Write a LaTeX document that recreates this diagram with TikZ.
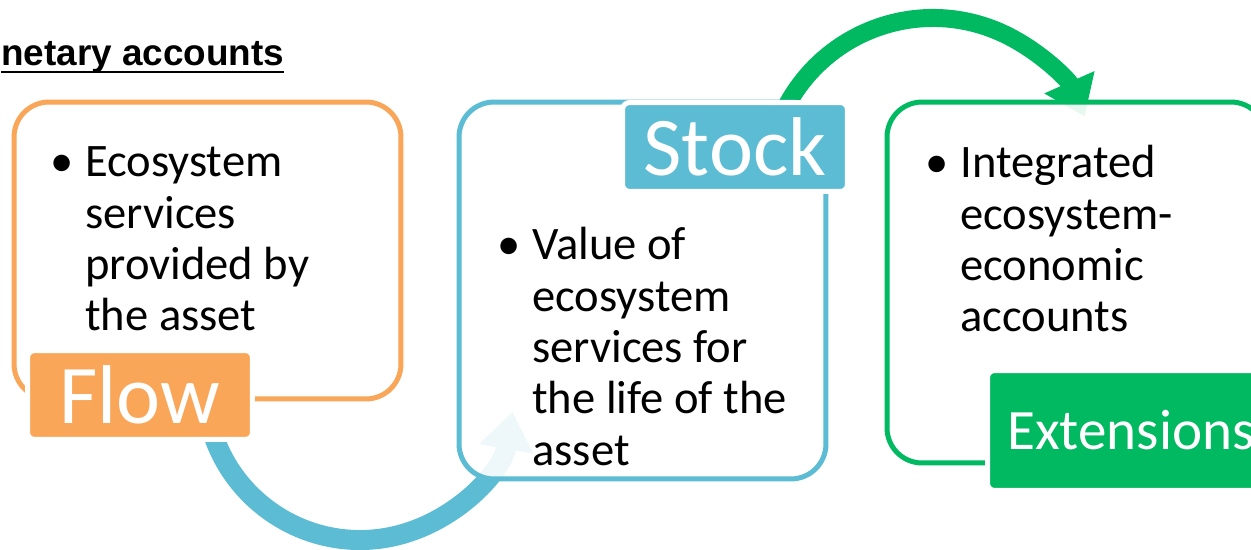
\documentclass[tikz,border=0pt]{standalone}
\usepackage{fontspec}
\setmainfont{Carlito}
\newfontfamily\titelfont{Liberation Sans}
\usetikzlibrary{arrows.meta}

\definecolor{flowcol}{HTML}{F9A658}
\definecolor{stockcol}{HTML}{5BBCD3}
\definecolor{extcol}{HTML}{00B960}

\begin{document}
\begin{tikzpicture}[x=0.02cm,y=-0.02cm,
	kasten/.style={draw,line width=0.1cm,rounded corners=0.7cm,fill=white,fill opacity=0.9,draw opacity=1,inner sep=0pt},
	tag/.style={draw=white,line width=0.1cm,rounded corners=0.14cm,text=white,inner sep=0pt,font=\fontsize{47.5pt}{50pt}\selectfont},
	punkte/.style={anchor=base west,inner sep=0pt,font=\fontsize{26.5pt}{29.2pt}\selectfont},
	bogen/.style={line width=#1,-{Triangle[length=0.75cm,width=1.05cm]}}]

\useasboundingbox (0,0) rectangle (1251,550);
\clip (0,0) rectangle (1251,550);

\def\rflow{155}
\def\rstock{166}

\coordinate (flowturn) at (360,385);
\coordinate (stockturn) at (933,184);

% the two round arrows
\draw[bogen=0.4cm,stockcol] (flowturn) ++(165:\rflow) arc[start angle=165,end angle=10,radius=\rflow];
\draw[bogen=0.36cm,extcol] (stockturn) ++(205:\rstock) arc[start angle=205,end angle=336,radius=\rstock];

\node[kasten,draw=flowcol,minimum width=7.74cm,minimum height=5.94cm] (flowbox) at (207.5,250.5) {};
\node[kasten,draw=stockcol,minimum width=7.34cm,minimum height=7.54cm] (stockbox) at (642.5,290.5) {};
\node[kasten,draw=extcol,minimum width=7.58cm,minimum height=7.22cm] (extbox) at (1076.5,282.5) {};

\node[tag,fill=flowcol,minimum width=4.5cm,minimum height=1.78cm] (flow) at (140,395) {Flow};
\node[tag,fill=stockcol,minimum width=4.5cm,minimum height=1.78cm] (stock) at (735,147) {Stock};
\node[tag,fill=extcol,minimum width=5.74cm,minimum height=2.4cm,font=\fontsize{32.5pt}{36pt}\selectfont] (ext) at (1131,430.5) {Extensions};

\node[punkte] (flowtext) at (50,177)
	{\makebox[0.7cm][l]{\textbullet}\parbox[t]{6.5cm}{Ecosystem\\services\\provided by\\the asset}};
\node[punkte] (stocktext) at (497,260)
	{\makebox[0.7cm][l]{\textbullet}\parbox[t]{6.5cm}{Value of\\ecosystem\\services for\\the life of the\\asset}};
\node[punkte] (exttext) at (925,178)
	{\makebox[0.7cm][l]{\textbullet}\parbox[t]{6.5cm}{Integrated\\ecosystem-\\economic\\accounts}};

\node[anchor=base west,inner sep=0pt,font=\titelfont\bfseries\fontsize{21pt}{24pt}\selectfont] (titel) at (1,66)
	{\setbox0\hbox{netary accounts}\rlap{\rule[-4.2pt]{\wd0}{1.1pt}}\box0};

\end{tikzpicture}
\end{document}
